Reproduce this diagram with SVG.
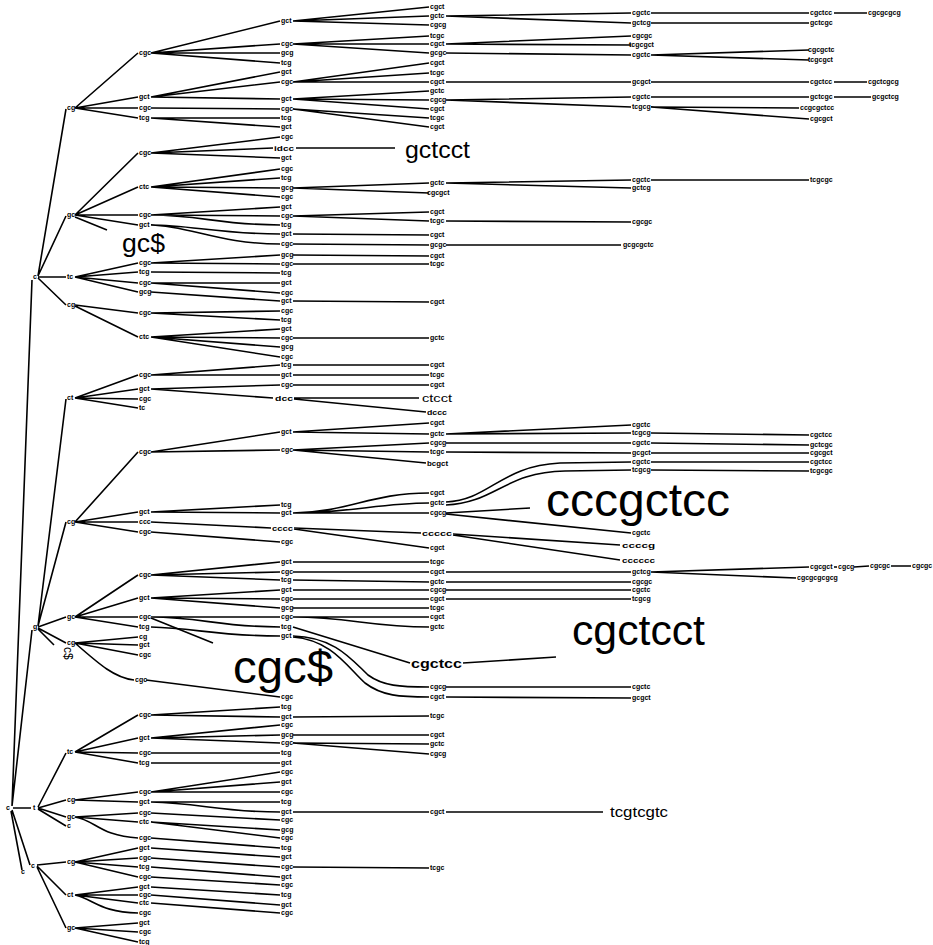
<svg xmlns="http://www.w3.org/2000/svg" width="933" height="945" viewBox="0 0 933 945">
<style>
.e path{fill:none;stroke:#000;stroke-width:1.6}
.t{font-family:"Liberation Sans",Arial,sans-serif;font-size:7px;font-weight:bold;fill:#000}
.L{font-family:"Liberation Sans",Arial,sans-serif;fill:#000}
</style>
<rect width="933" height="945" fill="#fff"/>
<g id="connectors" class="e">
<path d="M12 806L32 280M12 806L32 630M13 808L31 808M12 810L30 865M11 811L22 870"/>
<path d="M38 276L66 109M38 276L66 216M38 277L66 277M38 278L66 305"/>
<path d="M75 108L138 53M75 108L138 97M75 108L138 108M75 108L138 118"/>
<path d="M75 215L138 153M75 215L138 187M75 215L138 215M75 215L138 225M75 217L107 230"/>
<path d="M75 277L138 263M75 277L138 272M75 277L138 283M75 277L138 292"/>
<path d="M75 305L138 313M75 306L138 337"/>
<path d="M38 626L66 399M38 626L66 522M38 627L66 617M38 628L66 643M38 629L54 645"/>
<path d="M75 398L138 375M75 398L138 389M75 398L138 399M75 398L138 408"/>
<path d="M75 522L138 452M75 522L138 512M75 522L138 522M75 522L138 532"/>
<path d="M75 617L138 575M75 617L138 598M75 617L138 617M75 617L138 627"/>
<path d="M75 643L138 637M75 643L138 645M75 643L138 655M75 643C100 665 115 678 134 680"/>
<path d="M38 807L66 753M38 808L66 800M38 808L66 817M38 809L66 826"/>
<path d="M75 752L138 715M75 752L138 738M75 752L138 753M75 752L138 763"/>
<path d="M75 800L138 792M75 800L138 802"/>
<path d="M75 817L138 813M75 817L138 822M75 817C95 820 100 836 138 838"/>
<path d="M37 865L66 862M37 866L66 895M37 867L66 928"/>
<path d="M75 862L138 848M75 862L138 858M75 862L138 867M75 862L138 877"/>
<path d="M75 895L138 887M75 895L138 895M75 895L138 903M75 895C95 900 100 912 138 913"/>
<path d="M75 928L138 923M75 928L138 932M75 928L138 942"/>
<path d="M151 53L280 21M151 53L280 44M151 53L280 53M151 53L280 63"/>
<path d="M151 97L280 72M151 97L280 82M151 97L280 99"/>
<path d="M151 108L280 109"/>
<path d="M151 118L280 118M151 118L280 127"/>
<path d="M151 153L280 137M151 153L273 148M151 153L280 158"/>
<path d="M151 187L280 169M151 187L280 178M151 187L280 188M151 187L280 197"/>
<path d="M151 215L280 207M151 215L280 216M151 215C200 215 220 225 280 225"/>
<path d="M151 225C190 225 220 234 280 234M151 225C190 226 220 244 280 244"/>
<path d="M151 263L280 255M151 263L280 264"/>
<path d="M151 272L280 273"/>
<path d="M151 283L280 283M151 283L280 293"/>
<path d="M151 292L280 301"/>
<path d="M151 313L280 311M151 313L280 320"/>
<path d="M151 337L280 329M151 337L280 338M151 337L280 347M151 337L280 357"/>
<path d="M151 375L280 365M151 375L280 375"/>
<path d="M151 389L280 385M151 389L273 398"/>
<path d="M151 452L280 432M151 452L280 450"/>
<path d="M151 512L280 505M151 512L280 513"/>
<path d="M151 522L271 528"/>
<path d="M151 532L280 542"/>
<path d="M151 575L280 562M151 575L280 572M151 575L280 580"/>
<path d="M151 598L280 590M151 598L280 599M151 598L280 608"/>
<path d="M151 617L280 617M151 617C200 617 220 627 280 627M151 618L213 643"/>
<path d="M151 627C195 628 215 636 280 636"/>
<path d="M146 680L280 697"/>
<path d="M151 715L280 707M151 715L280 717"/>
<path d="M151 738L280 725M151 738L280 735M151 738L280 743"/>
<path d="M151 753L280 753"/>
<path d="M151 763L280 763"/>
<path d="M151 792L280 772M151 792L280 782M151 792L280 792"/>
<path d="M151 802L280 802M151 802C200 803 220 812 280 812"/>
<path d="M151 813L280 820"/>
<path d="M151 822L280 830M151 822L280 838"/>
<path d="M151 838L280 848"/>
<path d="M151 848L280 857"/>
<path d="M151 858L280 867"/>
<path d="M151 867L280 877"/>
<path d="M151 877L280 885"/>
<path d="M151 887L280 895"/>
<path d="M151 895L280 905"/>
<path d="M151 903L280 913"/>
<path d="M293 21L429 7M293 21L429 16M293 21L429 25"/>
<path d="M293 44L429 36M293 44L429 44M293 44L429 53"/>
<path d="M293 82L429 63M293 82L429 73M293 82L429 82"/>
<path d="M293 99L429 91M293 99L429 100M293 99L429 109"/>
<path d="M293 109L429 118M293 109L429 127"/>
<path d="M296 148L395 148"/>
<path d="M293 188L429 183M293 188L429 193"/>
<path d="M293 216L429 212M293 216L429 221"/>
<path d="M293 234L429 235"/>
<path d="M293 244L429 245"/>
<path d="M293 255L429 256"/>
<path d="M293 264L429 264"/>
<path d="M293 301L429 302"/>
<path d="M293 338L429 338"/>
<path d="M293 365L429 365"/>
<path d="M293 375L429 375"/>
<path d="M293 385L429 385"/>
<path d="M294 398L419 398M294 399L426 412"/>
<path d="M293 432L429 423M293 432L429 434"/>
<path d="M293 450L429 443M293 450L429 452M293 450L426 463"/>
<path d="M293 513C350 512 370 493 429 493M293 513C350 513 380 503 429 503M293 513L429 513"/>
<path d="M294 528L421 533M294 529L429 548"/>
<path d="M293 562L429 562"/>
<path d="M293 572L429 572"/>
<path d="M293 580L429 582"/>
<path d="M293 590L429 590"/>
<path d="M293 599L429 599"/>
<path d="M293 608L429 608"/>
<path d="M293 617L429 617M293 617C350 617 370 627 429 627"/>
<path d="M293 627L410 663"/>
<path d="M293 636C335 637 352 660 368 675C383 686 400 687 429 687M293 637C332 640 348 668 365 683C382 696 400 697 429 697"/>
<path d="M293 717L429 716"/>
<path d="M293 735L429 735"/>
<path d="M293 743L429 744M293 743L429 754"/>
<path d="M293 812L429 812"/>
<path d="M293 867L429 868"/>
<path d="M446 16L631 13M446 16L631 23"/>
<path d="M446 44L631 36M446 44L631 45"/>
<path d="M446 53L631 55"/>
<path d="M446 82L631 82"/>
<path d="M446 100L631 97M446 100L631 107"/>
<path d="M446 183L631 180M446 183L631 188"/>
<path d="M446 221L631 222"/>
<path d="M446 245L621 245"/>
<path d="M446 434L631 425M446 434L631 433"/>
<path d="M446 443L631 443"/>
<path d="M446 452L631 453"/>
<path d="M446 502C490 500 500 466 560 463L631 462M446 505C495 503 505 472 565 471L631 470"/>
<path d="M446 513L530 508M446 514L631 533"/>
<path d="M453 534L620 545M453 535L620 560"/>
<path d="M446 572L631 572"/>
<path d="M446 582L631 582"/>
<path d="M446 590L631 590"/>
<path d="M446 599L631 599"/>
<path d="M446 687L631 687"/>
<path d="M446 697L631 698"/>
<path d="M446 812L603 812"/>
<path d="M463 663L556 657"/>
<path d="M651 13L809 13"/>
<path d="M651 23L809 23"/>
<path d="M651 55L809 50M651 55L809 60"/>
<path d="M651 82L809 82"/>
<path d="M651 97L809 97"/>
<path d="M651 107L799 108M651 107L809 119"/>
<path d="M651 180L809 180"/>
<path d="M651 433L809 435"/>
<path d="M651 443L809 445"/>
<path d="M651 453L809 453"/>
<path d="M651 462L809 462"/>
<path d="M651 470L809 471"/>
<path d="M651 572L809 567M651 572L796 578"/>
<path d="M834 13L867 13"/>
<path d="M834 82L867 82"/>
<path d="M834 97L871 97"/>
<path d="M834 567L837 567M854 567L869 566M891 566L911 566"/>
</g>
<g id="nodes">
<g id="root"><text class="t" x="6" y="810">c</text></g>
<g id="rleaf"><text class="t" x="21" y="874">c</text></g>
<g id="A"><text class="t" x="33" y="279">c</text></g>
<g id="B"><text class="t" x="33" y="629">g</text></g>
<g id="C"><text class="t" x="33" y="810">t</text></g>
<g id="D"><text class="t" x="31" y="868">c</text></g>
<g id="a1"><text class="t" x="67" y="110">cg</text></g>
<g id="a2"><text class="t" x="67" y="217">gc</text></g>
<g id="a3"><text class="t" x="67" y="279">tc</text></g>
<g id="a4"><text class="t" x="67" y="307">cg</text></g>
<g id="b1"><text class="t" x="67" y="400">ct</text></g>
<g id="b2"><text class="t" x="67" y="524">cg</text></g>
<g id="b3"><text class="t" x="67" y="619">gc</text></g>
<g id="b4"><text class="t" x="67" y="645">cg</text></g>
<g id="c1"><text class="t" x="67" y="754">tc</text></g>
<g id="c2"><text class="t" x="67" y="802">cg</text></g>
<g id="c3"><text class="t" x="67" y="819">gc</text></g>
<g id="c4"><text class="t" x="67" y="828">c</text></g>
<g id="d1"><text class="t" x="67" y="864">cg</text></g>
<g id="d2"><text class="t" x="67" y="897">ct</text></g>
<g id="d3"><text class="t" x="67" y="930">gc</text></g>
<g id="L3" class="t">
<g id="m53"><text x="139" y="55">cgc</text></g>
<g id="m97"><text x="139" y="99">gct</text></g>
<g id="m108"><text x="139" y="110">cgc</text></g>
<g id="m118"><text x="139" y="120">tcg</text></g>
<g id="m153"><text x="139" y="155">cgc</text></g>
<g id="m187"><text x="139" y="189">ctc</text></g>
<g id="m215"><text x="139" y="217">cgc</text></g>
<g id="m225"><text x="139" y="227">gct</text></g>
<g id="m263"><text x="139" y="265">cgc</text></g>
<g id="m272"><text x="139" y="274">tcg</text></g>
<g id="m283"><text x="139" y="285">cgc</text></g>
<g id="m292"><text x="139" y="294">gcg</text></g>
<g id="m313"><text x="139" y="315">cgc</text></g>
<g id="m337"><text x="139" y="339">ctc</text></g>
<g id="m375"><text x="139" y="377">cgc</text></g>
<g id="m389"><text x="139" y="391">gct</text></g>
<g id="m399"><text x="139" y="401">cgc</text></g>
<g id="m408"><text x="139" y="410">tc</text></g>
<g id="m452"><text x="139" y="454">cgc</text></g>
<g id="m512"><text x="139" y="514">gct</text></g>
<g id="m522"><text x="139" y="524">ccc</text></g>
<g id="m532"><text x="139" y="534">cgc</text></g>
<g id="m575"><text x="139" y="577">cgc</text></g>
<g id="m598"><text x="139" y="600">gct</text></g>
<g id="m617"><text x="139" y="619">cgc</text></g>
<g id="m627"><text x="139" y="629">tcg</text></g>
<g id="m637"><text x="139" y="639">cg</text></g>
<g id="m645"><text x="139" y="647">gct</text></g>
<g id="m655"><text x="139" y="657">cgc</text></g>
<g id="m680"><text x="135" y="682">cgc</text></g>
<g id="m715"><text x="139" y="717">cgc</text></g>
<g id="m738"><text x="139" y="740">gct</text></g>
<g id="m753"><text x="139" y="755">cgc</text></g>
<g id="m763"><text x="139" y="765">tcg</text></g>
<g id="m792"><text x="139" y="794">cgc</text></g>
<g id="m802"><text x="139" y="804">gct</text></g>
<g id="m813"><text x="139" y="815">cgc</text></g>
<g id="m822"><text x="139" y="824">ctc</text></g>
<g id="m838"><text x="139" y="840">cgc</text></g>
<g id="m848"><text x="139" y="850">gct</text></g>
<g id="m858"><text x="139" y="860">cgc</text></g>
<g id="m867"><text x="139" y="869">tcg</text></g>
<g id="m877"><text x="139" y="879">cgc</text></g>
<g id="m887"><text x="139" y="889">gct</text></g>
<g id="m895"><text x="139" y="897">cgc</text></g>
<g id="m903"><text x="139" y="905">ctc</text></g>
<g id="m913"><text x="139" y="915">cgc</text></g>
<g id="m923"><text x="139" y="925">gct</text></g>
<g id="m932"><text x="139" y="934">cgc</text></g>
<g id="m942"><text x="139" y="944">tcg</text></g>
</g>
<g id="L4" class="t">
<g id="p21"><text x="281" y="23">gct</text></g>
<g id="p44"><text x="281" y="46">cgc</text></g>
<g id="p53"><text x="281" y="55">gcg</text></g>
<g id="p63"><text x="281" y="65">tcg</text></g>
<g id="p72"><text x="281" y="74">gct</text></g>
<g id="p82"><text x="281" y="84">cgc</text></g>
<g id="p99"><text x="281" y="101">gct</text></g>
<g id="p109"><text x="281" y="111">cgc</text></g>
<g id="p118"><text x="281" y="120">tcg</text></g>
<g id="p127"><text x="281" y="129">gct</text></g>
<g id="p137"><text x="281" y="139">cgc</text></g>
<g id="p148"><text class="L" x="274" y="151" font-size="7" font-weight="bold" textLength="20" lengthAdjust="spacingAndGlyphs">idcc</text></g>
<g id="p158"><text x="281" y="160">gct</text></g>
<g id="p169"><text x="281" y="171">cgc</text></g>
<g id="p178"><text x="281" y="180">tcg</text></g>
<g id="p188"><text x="281" y="190">gcg</text></g>
<g id="p197"><text x="281" y="199">cgc</text></g>
<g id="p207"><text x="281" y="209">gct</text></g>
<g id="p216"><text x="281" y="218">cgc</text></g>
<g id="p225"><text x="281" y="227">tcg</text></g>
<g id="p234"><text x="281" y="236">gct</text></g>
<g id="p244"><text x="281" y="246">cgc</text></g>
<g id="p255"><text x="281" y="257">gcg</text></g>
<g id="p264"><text x="281" y="266">cgc</text></g>
<g id="p273"><text x="281" y="275">tcg</text></g>
<g id="p283"><text x="281" y="285">gct</text></g>
<g id="p293"><text x="281" y="295">cgc</text></g>
<g id="p301"><text x="281" y="303">gct</text></g>
<g id="p311"><text x="281" y="313">cgc</text></g>
<g id="p320"><text x="281" y="322">tcg</text></g>
<g id="p329"><text x="281" y="331">gct</text></g>
<g id="p338"><text x="281" y="340">cgc</text></g>
<g id="p347"><text x="281" y="349">gcg</text></g>
<g id="p357"><text x="281" y="359">cgc</text></g>
<g id="p365"><text x="281" y="367">tcg</text></g>
<g id="p375"><text x="281" y="377">gct</text></g>
<g id="p385"><text x="281" y="387">cgc</text></g>
<g id="p398"><text class="L" x="275" y="401" font-size="7" font-weight="bold" textLength="18" lengthAdjust="spacingAndGlyphs">dcc</text></g>
<g id="p432"><text x="281" y="434">gct</text></g>
<g id="p450"><text x="281" y="452">cgc</text></g>
<g id="p505"><text x="281" y="507">tcg</text></g>
<g id="p513"><text x="281" y="515">gct</text></g>
<g id="p528"><text class="L" x="272" y="531" font-size="7" font-weight="bold" textLength="21" lengthAdjust="spacingAndGlyphs">cccc</text></g>
<g id="p542"><text x="281" y="544">cgc</text></g>
<g id="p562"><text x="281" y="564">gct</text></g>
<g id="p572"><text x="281" y="574">cgc</text></g>
<g id="p580"><text x="281" y="582">tcg</text></g>
<g id="p590"><text x="281" y="592">gct</text></g>
<g id="p599"><text x="281" y="601">cgc</text></g>
<g id="p608"><text x="281" y="610">gcg</text></g>
<g id="p617"><text x="281" y="619">cgc</text></g>
<g id="p627"><text x="281" y="629">tcg</text></g>
<g id="p636"><text x="281" y="638">gct</text></g>
<g id="p697"><text x="281" y="699">cgc</text></g>
<g id="p707"><text x="281" y="709">tcg</text></g>
<g id="p717"><text x="281" y="719">gct</text></g>
<g id="p725"><text x="281" y="727">cgc</text></g>
<g id="p735"><text x="281" y="737">gcg</text></g>
<g id="p743"><text x="281" y="745">cgc</text></g>
<g id="p753"><text x="281" y="755">tcg</text></g>
<g id="p763"><text x="281" y="765">gct</text></g>
<g id="p772"><text x="281" y="774">cgc</text></g>
<g id="p782"><text x="281" y="784">gct</text></g>
<g id="p792"><text x="281" y="794">cgc</text></g>
<g id="p802"><text x="281" y="804">tcg</text></g>
<g id="p812"><text x="281" y="814">gct</text></g>
<g id="p820"><text x="281" y="822">cgc</text></g>
<g id="p830"><text x="281" y="832">gcg</text></g>
<g id="p838"><text x="281" y="840">cgc</text></g>
<g id="p848"><text x="281" y="850">tcg</text></g>
<g id="p857"><text x="281" y="859">gct</text></g>
<g id="p867"><text x="281" y="869">cgc</text></g>
<g id="p877"><text x="281" y="879">gct</text></g>
<g id="p885"><text x="281" y="887">cgc</text></g>
<g id="p895"><text x="281" y="897">tcg</text></g>
<g id="p905"><text x="281" y="907">gct</text></g>
<g id="p913"><text x="281" y="915">cgc</text></g>
</g>
<g id="L5" class="t">
<g id="q7"><text x="430" y="9">cgct</text></g>
<g id="q16"><text x="430" y="18">gctc</text></g>
<g id="q25"><text x="430" y="27">cgcg</text></g>
<g id="q36"><text x="430" y="38">tcgc</text></g>
<g id="q44"><text x="430" y="46">cgct</text></g>
<g id="q53"><text x="430" y="55">gcgc</text></g>
<g id="q63"><text x="430" y="65">cgct</text></g>
<g id="q73"><text x="430" y="75">tcgc</text></g>
<g id="q82"><text x="430" y="84">cgct</text></g>
<g id="q91"><text x="430" y="93">gctc</text></g>
<g id="q100"><text x="430" y="102">cgcg</text></g>
<g id="q109"><text x="430" y="111">cgct</text></g>
<g id="q118"><text x="430" y="120">tcgc</text></g>
<g id="q127"><text x="430" y="129">cgct</text></g>
<g id="q183"><text x="430" y="185">gctc</text></g>
<g id="q193"><text x="427" y="195">cgcgct</text></g>
<g id="q212"><text x="430" y="214">cgct</text></g>
<g id="q221"><text x="430" y="223">tcgc</text></g>
<g id="q235"><text x="430" y="237">cgct</text></g>
<g id="q245"><text x="430" y="247">gcgc</text></g>
<g id="q256"><text x="430" y="258">cgct</text></g>
<g id="q264"><text x="430" y="266">tcgc</text></g>
<g id="q302"><text x="430" y="304">cgct</text></g>
<g id="q338"><text x="430" y="340">gctc</text></g>
<g id="q365"><text x="430" y="367">cgct</text></g>
<g id="q375"><text x="430" y="377">tcgc</text></g>
<g id="q385"><text x="430" y="387">cgct</text></g>
<g id="q412"><text class="L" x="427" y="415" font-size="7" font-weight="bold" textLength="20" lengthAdjust="spacingAndGlyphs">dccc</text></g>
<g id="q423"><text x="430" y="425">cgct</text></g>
<g id="q434"><text x="430" y="436">gctc</text></g>
<g id="q443"><text x="430" y="445">cgcg</text></g>
<g id="q452"><text x="430" y="454">tcgc</text></g>
<g id="q463"><text class="L" x="427" y="466" font-size="7" font-weight="bold" textLength="21" lengthAdjust="spacingAndGlyphs">bcgct</text></g>
<g id="q493"><text x="430" y="495">cgct</text></g>
<g id="q503"><text x="430" y="505">gctc</text></g>
<g id="q513"><text x="430" y="515">cgcg</text></g>
<g id="q533"><text class="L" x="422" y="536" font-size="8" font-weight="bold" textLength="30" lengthAdjust="spacingAndGlyphs">ccccc</text></g>
<g id="q548"><text x="430" y="550">cgct</text></g>
<g id="q562"><text x="430" y="564">tcgc</text></g>
<g id="q572"><text x="430" y="574">cgct</text></g>
<g id="q582"><text x="430" y="584">gctc</text></g>
<g id="q590"><text x="430" y="592">cgcg</text></g>
<g id="q599"><text x="430" y="601">cgct</text></g>
<g id="q608"><text x="430" y="610">tcgc</text></g>
<g id="q617"><text x="430" y="619">cgct</text></g>
<g id="q627"><text x="430" y="629">gctc</text></g>
<g id="q663"><text class="L" x="411" y="668" font-size="13" textLength="51" lengthAdjust="spacingAndGlyphs">cgctcc</text></g>
<g id="q687"><text x="430" y="689">cgcg</text></g>
<g id="q697"><text x="430" y="699">cgct</text></g>
<g id="q716"><text x="430" y="718">tcgc</text></g>
<g id="q735"><text x="430" y="737">cgct</text></g>
<g id="q744"><text x="430" y="746">gctc</text></g>
<g id="q754"><text x="430" y="756">cgcg</text></g>
<g id="q812"><text x="430" y="814">cgct</text></g>
<g id="q868"><text x="430" y="870">tcgc</text></g>
</g>
<g id="L6" class="t">
<g id="r13"><text x="632" y="15">cgctc</text></g>
<g id="r23"><text x="632" y="25">gctcg</text></g>
<g id="r36"><text x="632" y="38">cgcgc</text></g>
<g id="r45"><text x="629" y="47">tcgcgct</text></g>
<g id="r55"><text x="632" y="57">cgctc</text></g>
<g id="r82"><text x="632" y="84">gcgct</text></g>
<g id="r97"><text x="632" y="99">cgctc</text></g>
<g id="r107"><text x="632" y="109">tcgcg</text></g>
<g id="r180"><text x="632" y="182">cgctc</text></g>
<g id="r188"><text x="632" y="190">gctcg</text></g>
<g id="r222"><text x="632" y="224">cgcgc</text></g>
<g id="r245"><text x="623" y="247">gcgcgctc</text></g>
<g id="r425"><text x="632" y="427">cgctc</text></g>
<g id="r433"><text x="632" y="435">tcgcg</text></g>
<g id="r443"><text x="632" y="445">cgctc</text></g>
<g id="r453"><text x="632" y="455">gcgct</text></g>
<g id="r462"><text x="632" y="464">cgctc</text></g>
<g id="r470"><text x="632" y="472">tcgcg</text></g>
<g id="r533"><text x="632" y="535">cgctc</text></g>
<g id="r545"><text class="L" x="622" y="548" font-size="8" font-weight="bold" textLength="33" lengthAdjust="spacingAndGlyphs">ccccg</text></g>
<g id="r560"><text class="L" x="622" y="563" font-size="7" font-weight="bold" textLength="33" lengthAdjust="spacingAndGlyphs">cccccc</text></g>
<g id="r572"><text x="632" y="574">gctcg</text></g>
<g id="r582"><text x="632" y="584">cgcgc</text></g>
<g id="r590"><text x="632" y="592">cgctc</text></g>
<g id="r599"><text x="632" y="601">tcgcg</text></g>
<g id="r687"><text x="632" y="689">cgctc</text></g>
<g id="r698"><text x="632" y="700">gcgct</text></g>
</g>
<g id="L7" class="t">
<g id="s13"><text x="810" y="15">cgctcc</text></g>
<g id="s23"><text x="810" y="25">gctcgc</text></g>
<g id="s50"><text x="808" y="52">cgcgctc</text></g>
<g id="s60"><text x="808" y="62">tcgcgct</text></g>
<g id="s82"><text x="810" y="84">cgctcc</text></g>
<g id="s97"><text x="810" y="99">gctcgc</text></g>
<g id="s108"><text x="800" y="110">ccgcgctcc</text></g>
<g id="s119"><text x="810" y="121">cgcgct</text></g>
<g id="s180"><text x="810" y="182">tcgcgc</text></g>
<g id="s435"><text x="810" y="437">cgctcc</text></g>
<g id="s445"><text x="810" y="447">gctcgc</text></g>
<g id="s453"><text x="810" y="455">cgcgct</text></g>
<g id="s462"><text x="810" y="464">cgctcc</text></g>
<g id="s471"><text x="810" y="473">tcgcgc</text></g>
<g id="s567"><text x="810" y="569">cgcgct</text></g>
<g id="s578"><text x="797" y="580">cgcgcgcgcg</text></g>
</g>
<g id="L8" class="t">
<g id="u13"><text x="868" y="15">cgcgcgcg</text></g>
<g id="u82"><text x="868" y="84">cgctcgcg</text></g>
<g id="u97"><text x="872" y="99">gcgctcg</text></g>
<g id="u567a"><text x="838" y="569">cgcg</text></g>
<g id="u567b"><text x="870" y="568">cgcgc</text></g>
<g id="u567c"><text x="912" y="568">cgcgc</text></g>
</g>
<g id="leaves" class="L">
<g id="lf-gc"><text x="122" y="252" font-size="25" textLength="43" lengthAdjust="spacingAndGlyphs">gc$</text></g>
<g id="lf-gctcct"><text x="405" y="158" font-size="24" textLength="65" lengthAdjust="spacingAndGlyphs">gctcct</text></g>
<g id="lf-ctcct"><text x="422" y="402" font-size="11" textLength="30" lengthAdjust="spacingAndGlyphs">ctcct</text></g>
<g id="lf-cccgctcc"><text x="546" y="516" font-size="47" textLength="184" lengthAdjust="spacingAndGlyphs">cccgctcc</text></g>
<g id="lf-cgctcct"><text x="572" y="645" font-size="42" textLength="133" lengthAdjust="spacingAndGlyphs">cgctcct</text></g>
<g id="lf-cgc"><text x="233" y="683" font-size="46" textLength="100" lengthAdjust="spacingAndGlyphs">cgc$</text></g>
<g id="lf-tcgtcgtc"><text x="610" y="817" font-size="15" textLength="58" lengthAdjust="spacingAndGlyphs">tcgtcgtc</text></g>
<g id="lf-c"><text transform="translate(64,647) rotate(90)" font-size="12">c$</text></g>
</g>
</g>
</svg>
